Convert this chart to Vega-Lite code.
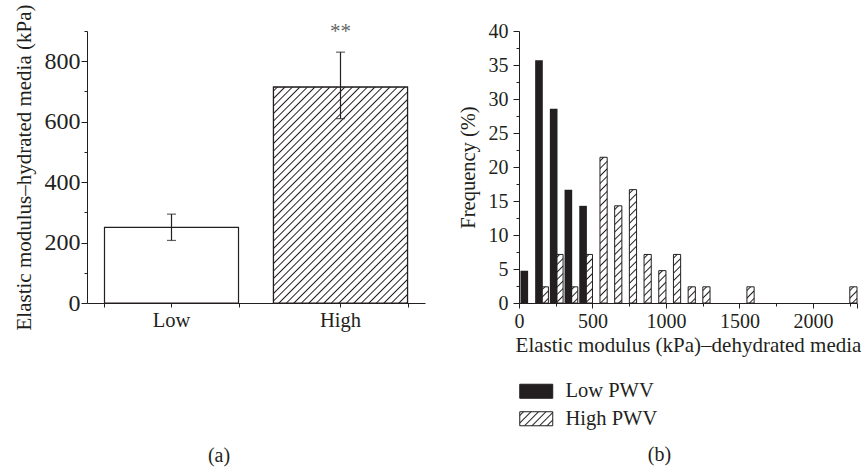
{
  "$schema": "https://vega.github.io/schema/vega-lite/v6.json",
  "background": "white",
  "padding": {"left": 12, "top": 3, "right": 5, "bottom": 5},
  "params": [
    {"name": "hatch", "value": [
      {"offset": 0.0065, "color": "#fff"}, {"offset": 0.0104, "color": "#231f20"}, {"offset": 0.0143, "color": "#fff"},
      {"offset": 0.0273, "color": "#fff"}, {"offset": 0.0313, "color": "#231f20"}, {"offset": 0.0352, "color": "#fff"},
      {"offset": 0.0482, "color": "#fff"}, {"offset": 0.0521, "color": "#231f20"}, {"offset": 0.0560, "color": "#fff"},
      {"offset": 0.0690, "color": "#fff"}, {"offset": 0.0729, "color": "#231f20"}, {"offset": 0.0768, "color": "#fff"},
      {"offset": 0.0899, "color": "#fff"}, {"offset": 0.0938, "color": "#231f20"}, {"offset": 0.0976, "color": "#fff"},
      {"offset": 0.1107, "color": "#fff"}, {"offset": 0.1146, "color": "#231f20"}, {"offset": 0.1185, "color": "#fff"},
      {"offset": 0.1315, "color": "#fff"}, {"offset": 0.1354, "color": "#231f20"}, {"offset": 0.1393, "color": "#fff"},
      {"offset": 0.1524, "color": "#fff"}, {"offset": 0.1563, "color": "#231f20"}, {"offset": 0.1601, "color": "#fff"},
      {"offset": 0.1732, "color": "#fff"}, {"offset": 0.1771, "color": "#231f20"}, {"offset": 0.1810, "color": "#fff"},
      {"offset": 0.1940, "color": "#fff"}, {"offset": 0.1979, "color": "#231f20"}, {"offset": 0.2018, "color": "#fff"},
      {"offset": 0.2149, "color": "#fff"}, {"offset": 0.2188, "color": "#231f20"}, {"offset": 0.2226, "color": "#fff"},
      {"offset": 0.2357, "color": "#fff"}, {"offset": 0.2396, "color": "#231f20"}, {"offset": 0.2435, "color": "#fff"},
      {"offset": 0.2565, "color": "#fff"}, {"offset": 0.2604, "color": "#231f20"}, {"offset": 0.2643, "color": "#fff"},
      {"offset": 0.2774, "color": "#fff"}, {"offset": 0.2813, "color": "#231f20"}, {"offset": 0.2851, "color": "#fff"},
      {"offset": 0.2982, "color": "#fff"}, {"offset": 0.3021, "color": "#231f20"}, {"offset": 0.3060, "color": "#fff"},
      {"offset": 0.3190, "color": "#fff"}, {"offset": 0.3229, "color": "#231f20"}, {"offset": 0.3268, "color": "#fff"},
      {"offset": 0.3399, "color": "#fff"}, {"offset": 0.3438, "color": "#231f20"}, {"offset": 0.3476, "color": "#fff"},
      {"offset": 0.3607, "color": "#fff"}, {"offset": 0.3646, "color": "#231f20"}, {"offset": 0.3685, "color": "#fff"},
      {"offset": 0.3815, "color": "#fff"}, {"offset": 0.3854, "color": "#231f20"}, {"offset": 0.3893, "color": "#fff"},
      {"offset": 0.4024, "color": "#fff"}, {"offset": 0.4063, "color": "#231f20"}, {"offset": 0.4101, "color": "#fff"},
      {"offset": 0.4232, "color": "#fff"}, {"offset": 0.4271, "color": "#231f20"}, {"offset": 0.4310, "color": "#fff"},
      {"offset": 0.4440, "color": "#fff"}, {"offset": 0.4479, "color": "#231f20"}, {"offset": 0.4518, "color": "#fff"},
      {"offset": 0.4649, "color": "#fff"}, {"offset": 0.4688, "color": "#231f20"}, {"offset": 0.4726, "color": "#fff"},
      {"offset": 0.4857, "color": "#fff"}, {"offset": 0.4896, "color": "#231f20"}, {"offset": 0.4935, "color": "#fff"},
      {"offset": 0.5065, "color": "#fff"}, {"offset": 0.5104, "color": "#231f20"}, {"offset": 0.5143, "color": "#fff"},
      {"offset": 0.5274, "color": "#fff"}, {"offset": 0.5313, "color": "#231f20"}, {"offset": 0.5351, "color": "#fff"},
      {"offset": 0.5482, "color": "#fff"}, {"offset": 0.5521, "color": "#231f20"}, {"offset": 0.5560, "color": "#fff"},
      {"offset": 0.5690, "color": "#fff"}, {"offset": 0.5729, "color": "#231f20"}, {"offset": 0.5768, "color": "#fff"},
      {"offset": 0.5899, "color": "#fff"}, {"offset": 0.5938, "color": "#231f20"}, {"offset": 0.5976, "color": "#fff"},
      {"offset": 0.6107, "color": "#fff"}, {"offset": 0.6146, "color": "#231f20"}, {"offset": 0.6185, "color": "#fff"},
      {"offset": 0.6315, "color": "#fff"}, {"offset": 0.6354, "color": "#231f20"}, {"offset": 0.6393, "color": "#fff"},
      {"offset": 0.6524, "color": "#fff"}, {"offset": 0.6563, "color": "#231f20"}, {"offset": 0.6601, "color": "#fff"},
      {"offset": 0.6732, "color": "#fff"}, {"offset": 0.6771, "color": "#231f20"}, {"offset": 0.6810, "color": "#fff"},
      {"offset": 0.6940, "color": "#fff"}, {"offset": 0.6979, "color": "#231f20"}, {"offset": 0.7018, "color": "#fff"},
      {"offset": 0.7149, "color": "#fff"}, {"offset": 0.7188, "color": "#231f20"}, {"offset": 0.7226, "color": "#fff"},
      {"offset": 0.7357, "color": "#fff"}, {"offset": 0.7396, "color": "#231f20"}, {"offset": 0.7435, "color": "#fff"},
      {"offset": 0.7565, "color": "#fff"}, {"offset": 0.7604, "color": "#231f20"}, {"offset": 0.7643, "color": "#fff"},
      {"offset": 0.7774, "color": "#fff"}, {"offset": 0.7813, "color": "#231f20"}, {"offset": 0.7851, "color": "#fff"},
      {"offset": 0.7982, "color": "#fff"}, {"offset": 0.8021, "color": "#231f20"}, {"offset": 0.8060, "color": "#fff"},
      {"offset": 0.8190, "color": "#fff"}, {"offset": 0.8229, "color": "#231f20"}, {"offset": 0.8268, "color": "#fff"},
      {"offset": 0.8399, "color": "#fff"}, {"offset": 0.8438, "color": "#231f20"}, {"offset": 0.8476, "color": "#fff"},
      {"offset": 0.8607, "color": "#fff"}, {"offset": 0.8646, "color": "#231f20"}, {"offset": 0.8685, "color": "#fff"},
      {"offset": 0.8815, "color": "#fff"}, {"offset": 0.8854, "color": "#231f20"}, {"offset": 0.8893, "color": "#fff"},
      {"offset": 0.9024, "color": "#fff"}, {"offset": 0.9063, "color": "#231f20"}, {"offset": 0.9101, "color": "#fff"},
      {"offset": 0.9232, "color": "#fff"}, {"offset": 0.9271, "color": "#231f20"}, {"offset": 0.9310, "color": "#fff"},
      {"offset": 0.9440, "color": "#fff"}, {"offset": 0.9479, "color": "#231f20"}, {"offset": 0.9518, "color": "#fff"},
      {"offset": 0.9649, "color": "#fff"}, {"offset": 0.9688, "color": "#231f20"}, {"offset": 0.9726, "color": "#fff"},
      {"offset": 0.9857, "color": "#fff"}, {"offset": 0.9896, "color": "#231f20"}, {"offset": 0.9935, "color": "#fff"}
    ]}
  ],
  "config": {
    "font": "Liberation Serif",
    "view": {"stroke": null},
    "axis": {
      "domainColor": "#231f20", "tickColor": "#231f20", "labelColor": "#231f20", "titleColor": "#231f20",
      "labelFont": "Liberation Serif", "titleFont": "Liberation Serif", "titleFontWeight": "normal",
      "grid": false, "domainWidth": 1, "tickWidth": 1, "labelOverlap": false, "labelBound": false, "labelFlush": false
    },
    "title": {"font": "Liberation Serif", "fontWeight": "normal", "fontSize": 20, "color": "#231f20"}
  },
  "bounds": "flush",
  "spacing": 94,
  "resolve": {"legend": {"fill": "independent"}},
  "hconcat": [
    {
      "width": 338,
      "height": 272,
      "title": {"text": "(a)", "orient": "bottom", "offset": 115, "anchor": "middle", "frame": "bounds"},
      "data": {"values": [
        {"group": "Low", "mean": 250, "lo": 207, "hi": 294},
        {"group": "High", "mean": 714, "lo": 610, "hi": 830, "sig": "**"}
      ]},
      "resolve": {"axis": {"x": "independent", "y": "independent"}},
      "layer": [
        {
          "mark": {"type": "bar", "fill": "white", "stroke": "#231f20", "strokeWidth": 1.2},
          "encoding": {
            "x": {"field": "group", "type": "nominal", "sort": ["Low", "High"],
              "scale": {"paddingInner": 0.207, "paddingOuter": 0.1035},
              "axis": {"title": null, "labelFontSize": 20.5, "tickSize": 4, "labelPadding": 3, "labelAngle": 0}},
            "y": {"field": "mean", "type": "quantitative",
              "scale": {"domain": [0, 900], "nice": false},
              "axis": {"title": "Elastic modulus–hydrated media (kPa)", "titleFontSize": 21, "titlePadding": 10,
                "values": [0, 200, 400, 600, 800], "tickSize": 6,
                "labelFontSize": 24, "labelPadding": 1}}
          }
        },
        {
          "transform": [{"filter": "datum.group == 'High'"}],
          "mark": {"type": "bar", "stroke": "#231f20", "strokeWidth": 1.2},
          "encoding": {
            "x": {"field": "group", "type": "nominal", "sort": ["Low", "High"],
              "axis": {"orient": "bottom", "title": null, "labels": false, "domain": false, "tickBand": "extent", "tickSize": 4}},
            "y": {"field": "mean", "type": "quantitative",
              "axis": {"orient": "left", "title": null, "labels": false, "domain": false, "values": [100, 300, 500, 700, 900], "tickSize": 3}},
            "fill": {"value": {"expr": "{gradient: 'linear', x1: 0, y1: 0, x2: 134*360/(17956 + pow(datum.mean*272/900, 2)), y2: (datum.mean*272/900)*360/(17956 + pow(datum.mean*272/900, 2)), stops: hatch}"}}
          }
        },
        {
          "mark": {"type": "rule", "color": "#231f20", "strokeWidth": 1.2},
          "encoding": {
            "x": {"field": "group", "type": "nominal", "sort": ["Low", "High"], "axis": null},
            "y": {"field": "lo", "type": "quantitative", "axis": null},
            "y2": {"field": "hi"}
          }
        },
        {
          "mark": {"type": "tick", "color": "#231f20", "size": 9, "thickness": 1.2},
          "encoding": {
            "x": {"field": "group", "type": "nominal", "sort": ["Low", "High"], "axis": null},
            "y": {"field": "lo", "type": "quantitative", "axis": null}
          }
        },
        {
          "mark": {"type": "tick", "color": "#231f20", "size": 9, "thickness": 1.2},
          "encoding": {
            "x": {"field": "group", "type": "nominal", "sort": ["Low", "High"], "axis": null},
            "y": {"field": "hi", "type": "quantitative", "axis": null}
          }
        },
        {
          "transform": [{"filter": "datum.sig"}],
          "mark": {"type": "text", "color": "#666666", "fontSize": 21, "baseline": "alphabetic", "dy": -14, "font": "Liberation Serif"},
          "encoding": {
            "x": {"field": "group", "type": "nominal", "sort": ["Low", "High"], "axis": null},
            "y": {"field": "hi", "type": "quantitative", "axis": null},
            "text": {"field": "sig"}
          }
        }
      ]
    },
    {
      "width": 338,
      "height": 272,
      "title": {"text": "(b)", "orient": "bottom", "offset": 15, "anchor": "middle", "frame": "bounds"},
      "data": {"values": [
        {"bin": 0, "group": "Low PWV", "freq": 4.76},
        {"bin": 100, "group": "Low PWV", "freq": 35.71},
        {"bin": 200, "group": "Low PWV", "freq": 28.57},
        {"bin": 300, "group": "Low PWV", "freq": 16.67},
        {"bin": 400, "group": "Low PWV", "freq": 14.29},
        {"bin": 100, "group": "High PWV", "freq": 2.38},
        {"bin": 200, "group": "High PWV", "freq": 7.14},
        {"bin": 300, "group": "High PWV", "freq": 2.38},
        {"bin": 400, "group": "High PWV", "freq": 7.14},
        {"bin": 500, "group": "High PWV", "freq": 21.43},
        {"bin": 600, "group": "High PWV", "freq": 14.29},
        {"bin": 700, "group": "High PWV", "freq": 16.67},
        {"bin": 800, "group": "High PWV", "freq": 7.14},
        {"bin": 900, "group": "High PWV", "freq": 4.76},
        {"bin": 1000, "group": "High PWV", "freq": 7.14},
        {"bin": 1100, "group": "High PWV", "freq": 2.38},
        {"bin": 1200, "group": "High PWV", "freq": 2.38},
        {"bin": 1500, "group": "High PWV", "freq": 2.38},
        {"bin": 2200, "group": "High PWV", "freq": 2.38}
      ]},
      "transform": [
        {"calculate": "datum.group == 'Low PWV' ? datum.bin + 10 : datum.bin + 51", "as": "xs"},
        {"calculate": "datum.group == 'Low PWV' ? datum.bin + 62 : datum.bin + 100", "as": "xe"}
      ],
      "resolve": {"axis": {"x": "independent", "y": "independent"}},
      "layer": [
        {
          "transform": [{"filter": "datum.group == 'High PWV'"}],
          "mark": {"type": "bar", "stroke": "#231f20", "strokeWidth": 1},
          "encoding": {
            "x": {"field": "xs", "type": "quantitative",
              "scale": {"domain": [0, 2300], "nice": false, "zero": true},
              "axis": {"title": "Elastic modulus (kPa)–dehydrated media", "titleFontSize": 21, "titlePadding": 3,
                "values": [0, 500, 1000, 1500, 2000, 2300],
                "labelExpr": "datum.value <= 2000 ? datum.label : ''",
                "format": "d", "tickSize": 5,
                "labelFontSize": 20, "labelPadding": 3}},
            "x2": {"field": "xe"},
            "y": {"field": "freq", "type": "quantitative", "stack": null,
              "scale": {"domain": [0, 40], "nice": false},
              "axis": {"title": "Frequency (%)", "titleFontSize": 20.5, "titlePadding": 10,
                "values": [0, 5, 10, 15, 20, 25, 30, 35, 40], "tickSize": 6,
                "labelFontSize": 20, "labelPadding": 5}},
            "y2": {"datum": 0},
            "fill": {"value": {"expr": "{gradient: 'linear', x1: 0, y1: 0, x2: 7.2*360/(51.84 + pow(datum.freq*6.8, 2)), y2: (datum.freq*6.8)*360/(51.84 + pow(datum.freq*6.8, 2)), stops: hatch}"}}
          }
        },
        {
          "transform": [{"filter": "datum.group == 'Low PWV'"}],
          "mark": {"type": "bar"},
          "encoding": {
            "x": {"field": "xs", "type": "quantitative",
              "axis": {"orient": "bottom", "title": null, "labels": false, "domain": false, "values": [250, 750, 1250, 1750, 2250], "tickSize": 3}},
            "x2": {"field": "xe"},
            "y": {"field": "freq", "type": "quantitative", "stack": null,
              "axis": {"orient": "left", "title": null, "labels": false, "domain": false, "values": [2.5, 7.5, 12.5, 17.5, 22.5, 27.5, 32.5, 37.5], "tickSize": 3}},
            "y2": {"datum": 0},
            "fill": {"field": "group", "type": "nominal",
              "scale": {"domain": ["Low PWV", "High PWV"], "range": ["#231f20", {"expr": "{gradient: 'linear', x1: 0, y1: 0, x2: 9.245, y2: 3.922, stops: hatch}"}]},
              "legend": {"title": null, "orient": "none", "legendX": 7, "legendY": 350, "direction": "vertical",
                "symbolType": "M-2,-0.85H2V0.85H-2Z", "symbolSize": 272,
                "labelFont": "Liberation Serif", "labelFontSize": 20.5, "labelColor": "#231f20",
                "rowPadding": 6.5, "labelOffset": 19, "padding": 0,
                "symbolStrokeColor": "#231f20", "symbolStrokeWidth": 1}}
          }
        }
      ]
    }
  ]
}
